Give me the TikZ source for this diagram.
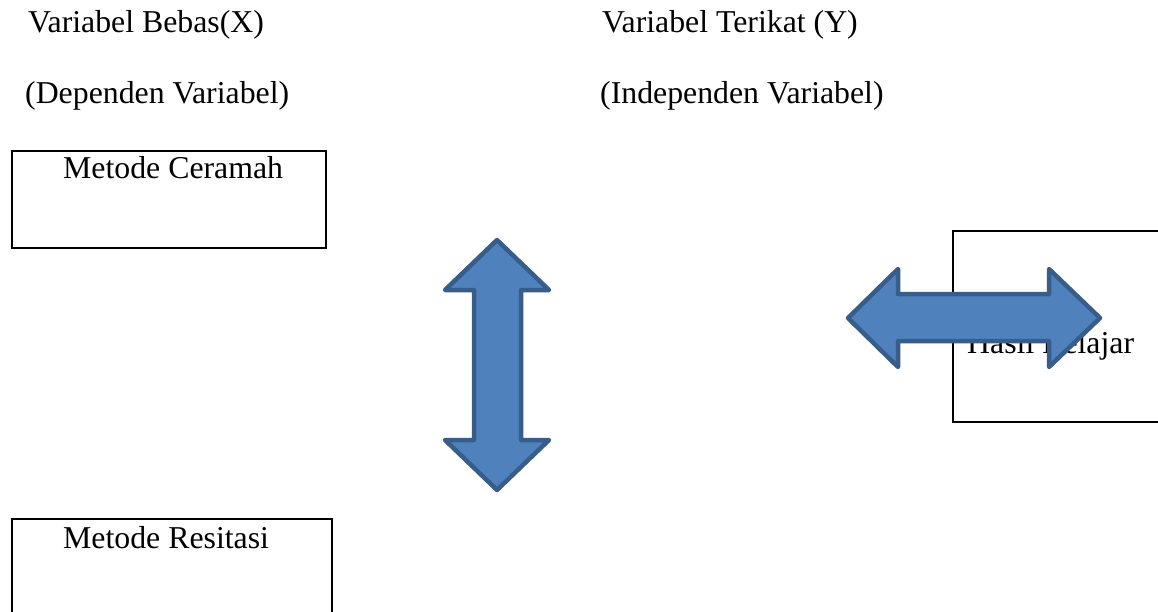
\documentclass[tikz,border=0pt]{standalone}
\usepackage{fontspec}
\setmainfont{Liberation Serif}
\begin{document}
\begin{tikzpicture}[x=1pt,y=-1pt,
  txt/.style={anchor=base west, inner sep=0pt, font=\fontsize{31.8}{38}\selectfont},
  box/.style={draw=black, line width=2.2pt, anchor=north west, inner sep=0pt},
  bigarrow/.style={fill={rgb,255:red,79;green,129;blue,189}, draw={rgb,255:red,56;green,93;blue,138}, line width=4.5pt, line join=round}]
\useasboundingbox (0,0) rectangle (1158,611);
\clip (0,0) rectangle (1158,611);
\fill[white] (0,0) rectangle (1158,611);
% headings
\node[txt] (hx) at (28,32) {Variabel Bebas(X)};
\node[txt] (hxd) at (25,103) {(Dependen Variabel)};
\node[txt] (hy) at (602,32) {Variabel Terikat (Y)};
\node[txt] (hyd) at (600,103) {(Independen Variabel)};
% boxes
\node[box, minimum width=314pt, minimum height=97pt] (ceramah) at (11,150) {};
\node[txt] (tceramah) at (63,178) {Metode Ceramah};
\node[box, minimum width=320pt, minimum height=130pt] (resitasi) at (11,518) {};
\node[txt] (tresitasi) at (63,548) {Metode Resitasi};
\node[box, minimum width=230pt, minimum height=191pt] (hasil) at (952,230) {};
\node[txt] (thasil) at (967,353) {Hasil Belajar};
% vertical double arrow
\draw[bigarrow] (497,240) -- (549,290) -- (521,290) -- (521,440) -- (549,440) -- (497,490)
  -- (445,440) -- (474,440) -- (474,290) -- (445,290) -- cycle;
% horizontal double arrow
\draw[bigarrow] (848,318) -- (898,269) -- (898,294) -- (1049,294) -- (1049,269) -- (1100,318)
  -- (1049,367) -- (1049,341) -- (898,341) -- (898,367) -- cycle;
\end{tikzpicture}
\end{document}
